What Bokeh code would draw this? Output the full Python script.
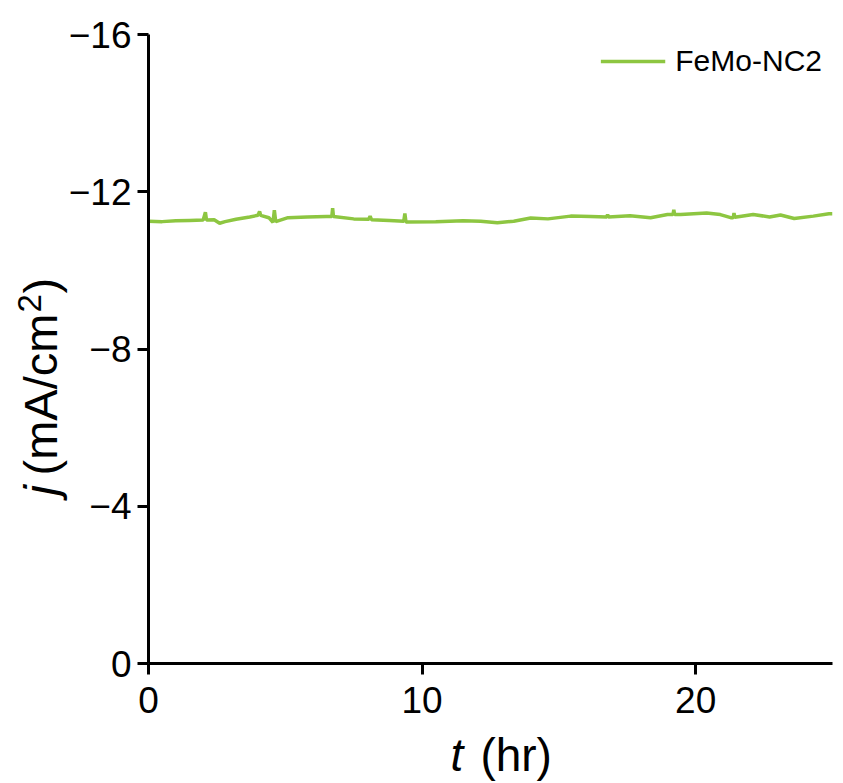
from bokeh.plotting import figure
from bokeh.models import Range1d, FixedTicker, Legend, LegendItem
from bokeh.core.properties import value
from bokeh.embed import file_html
from bokeh.resources import INLINE

# ---- data ----
t_hr = [0, 0.5, 1.0, 1.5, 2.0, 2.08, 2.12, 2.4, 2.6, 2.8, 3.2, 3.7, 4.0, 4.06, 4.1,
        4.4, 4.55, 4.6, 4.65, 5.1, 5.8, 6.5, 6.7, 6.73, 6.76, 7.5, 8.05, 8.1, 8.15,
        8.8, 9.33, 9.37, 9.41, 10.5, 11.5, 12.14, 12.75, 13.35, 13.97, 14.6, 15.43,
        16.16, 16.75, 16.78, 16.81, 17.6, 18.35, 18.97, 19.17, 19.2, 19.23, 19.45,
        20.4, 20.9, 21.28, 21.37, 21.4, 21.43, 22.1, 22.7, 23.1, 23.6, 24.3, 24.87, 25.0]
j_femo_nc2 = [-11.25, -11.24, -11.26, -11.27, -11.28, -11.48, -11.28, -11.29, -11.20,
              -11.24, -11.30, -11.36, -11.40, -11.50, -11.40, -11.34, -11.22, -11.53,
              -11.24, -11.34, -11.36, -11.37, -11.37, -11.58, -11.37, -11.31, -11.30,
              -11.38, -11.29, -11.27, -11.25, -11.45, -11.23, -11.24, -11.26, -11.25,
              -11.21, -11.25, -11.33, -11.31, -11.38, -11.37, -11.36, -11.42, -11.36,
              -11.39, -11.34, -11.42, -11.42, -11.54, -11.42, -11.42, -11.46, -11.42,
              -11.34, -11.34, -11.46, -11.35, -11.42, -11.36, -11.41, -11.32, -11.38,
              -11.44, -11.44]
series_name = "FeMo-NC2"
x_ticks = [0, 10, 20]
y_ticks = [0, -4, -8, -12, -16]
y_tick_labels = {0: "0", -4: "\u22124", -8: "\u22128", -12: "\u221212", -16: "\u221216"}

FONT = "Liberation Sans"

p = figure(width=843, height=783, output_backend="svg", toolbar_location=None,
           x_range=Range1d(0, 25), y_range=Range1d(0, -16),
           min_border_left=148, min_border_right=11, min_border_top=34, min_border_bottom=120)
p.background_fill_color = "white"
p.border_fill_color = "white"
p.outline_line_color = None
p.xgrid.visible = False
p.ygrid.visible = False

r = p.line(t_hr, j_femo_nc2, line_color="#8dc641", line_width=3.5)

for ax in (p.xaxis[0], p.yaxis[0]):
    ax.axis_line_width = 3
    ax.axis_line_color = "black"
    ax.major_tick_line_width = 3
    ax.major_tick_line_color = "black"
    ax.major_tick_out = 11
    ax.major_tick_in = 0
    ax.minor_tick_line_color = None
    ax.major_label_text_font = FONT
    ax.major_label_text_font_size = "37px"
    ax.major_label_text_color = "black"

p.xaxis[0].ticker = FixedTicker(ticks=x_ticks)
p.yaxis[0].ticker = FixedTicker(ticks=y_ticks)
p.yaxis[0].major_label_overrides = y_tick_labels
p.xaxis[0].major_label_standoff = 12
p.yaxis[0].major_label_standoff = 6

# ---- axis titles: text pieces drawn on the overlay level (not clipped) ----
ttl = dict(text_font=value(FONT), text_color="black", text_align="left",
           text_baseline="middle", level="overlay")
# y title: "j (mA/cm²)" rotated, italic j, raised 2
p.text(x=[-3.93], y=[-4.273], text=["j"], angle=1.5708, text_font_size="47px",
       text_font_style="italic", **ttl)
p.text(x=[-3.93], y=[-4.782], text=["(mA/cm"], angle=1.5708, text_font_size="47px", **ttl)
p.text(x=[-4.35], y=[-8.928], text=["2"], angle=1.5708, text_font_size="33px", **ttl)
p.text(x=[-3.93], y=[-9.412], text=[")"], angle=1.5708, text_font_size="47px", **ttl)
# x title: "t (hr)", italic t
p.text(x=[11.04], y=[2.34], text=["t"], text_font_size="46px", text_font_style="italic", **ttl)
p.text(x=[12.13], y=[2.34], text=["(hr)"], text_font_size="46px", **ttl)

legend = Legend(items=[LegendItem(label=series_name, renderers=[r])],
                location="top_right", border_line_color=None,
                background_fill_alpha=0, margin=10, padding=0, spacing=0,
                glyph_width=65, glyph_height=30, label_standoff=10,
                label_text_font=FONT, label_text_font_size="30px",
                label_text_color="black")
p.add_layout(legend)

open("out.html", "w").write(file_html(p, INLINE))
